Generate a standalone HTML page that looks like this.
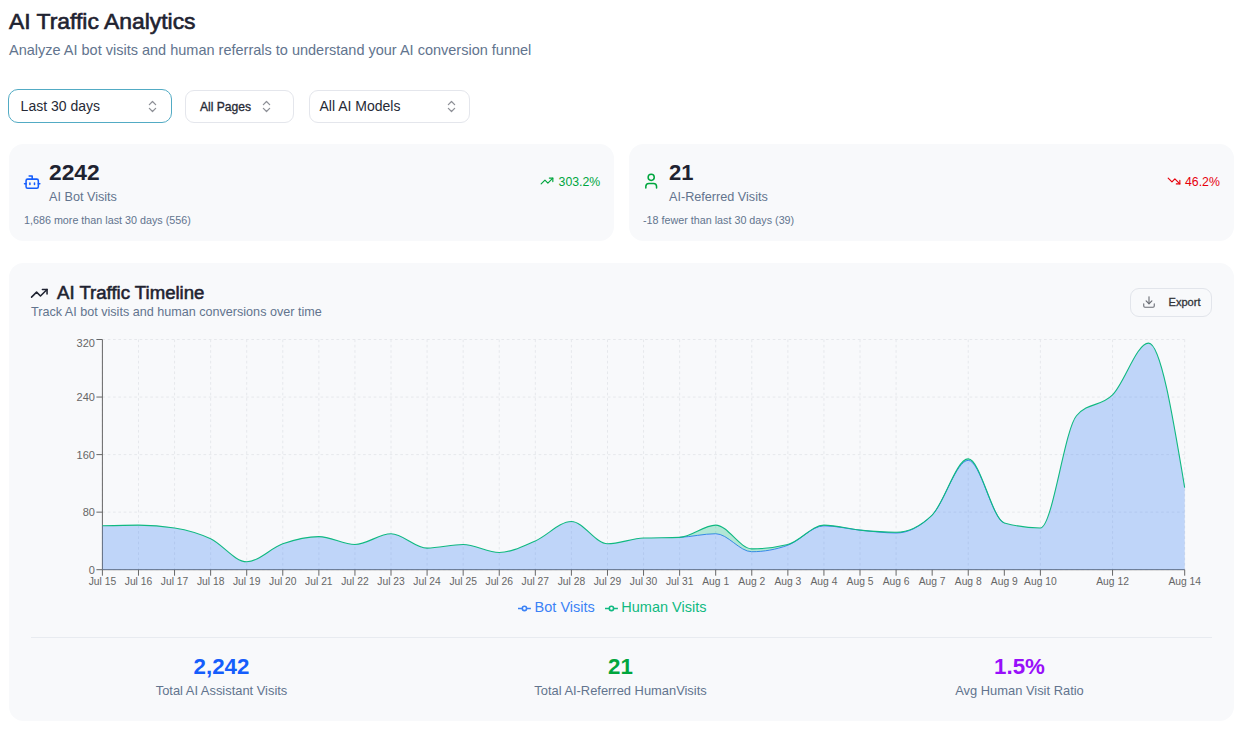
<!DOCTYPE html>
<html lang="en">
<head>
<meta charset="utf-8">
<title>AI Traffic Analytics</title>
<style>
*{box-sizing:border-box;margin:0;padding:0}
html,body{width:1243px;height:733px;overflow:hidden;background:#fff}
body{position:relative;font-family:"Liberation Sans",Arial,sans-serif;color:#1e2230}
.abs{position:absolute;white-space:nowrap}
h1{position:absolute;left:9px;top:8.6px;font-size:21.4px;line-height:26px;font-weight:400;-webkit-text-stroke:0.6px #1f2331;color:#1f2331;transform-origin:0 0;transform:scaleX(1.07)}
.sub{left:9px;top:41px;font-size:14.5px;line-height:18px;color:#62748e}
.sel{position:absolute;top:90px;height:32.5px;border:1px solid #e4e6ec;border-radius:9px;background:#fff}
.seltxt{top:98px;font-size:14px;line-height:16px;color:#262a36}
.sel1{left:8.2px;top:89px;width:163.7px;height:34px;border:1.3px solid #52abc4;border-radius:10px}
.card{position:absolute;background:#f8f9fb;border-radius:14.5px}
.c1{left:9px;top:144px;width:605px;height:97px}
.c2{left:628.5px;top:144px;width:605px;height:97px}
.big{font-size:22px;font-weight:700;color:#1f2331;line-height:26px}
.lbl{font-size:12.65px;color:#62748e;line-height:16px}
.small{font-size:10.75px;color:#62748e;line-height:14px}
.pct{font-size:12.3px;line-height:14px}
.chartcard{left:9px;top:263px;width:1225px;height:458px}
.chart{position:absolute;left:0;top:0}
.chart text{font-size:11px;font-family:"Liberation Sans",Arial,sans-serif}
.chart text.xl{font-size:10.3px}
.legend{font-size:14.5px;line-height:18px}
.divider{position:absolute;left:30.5px;top:637px;width:1181.5px;height:1px;background:#e8ebf0}
.stat{position:absolute;width:383px;text-align:center}
.stat .v{font-size:22.3px;font-weight:700;line-height:24px}
.stat .l{font-size:12.9px;color:#62748e;line-height:16px;margin-top:4.3px}
.export{position:absolute;left:1130px;top:288px;width:82px;height:29px;border:1px solid #e2e5eb;border-radius:9px;background:#f8f9fb}
</style>
</head>
<body>
<h1>AI Traffic Analytics</h1>
<div class="abs sub">Analyze AI bot visits and human referrals to understand your AI conversion funnel</div>

<div class="sel sel1"></div>
<div class="sel" style="left:185px;width:108.5px"></div>
<div class="sel" style="left:308.5px;width:161.5px"></div>
<div class="abs seltxt" style="left:20.6px">Last 30 days</div>
<div class="abs seltxt" style="left:200px;top:98.5px;font-size:12.1px;-webkit-text-stroke:0.32px #262a36">All Pages</div>
<div class="abs seltxt" style="left:319.5px">All AI Models</div>
<svg class="abs" style="left:144.6px;top:99.2px;opacity:.5" width="15" height="15" viewBox="0 0 24 24" fill="none" stroke="#1f2331" stroke-width="2" stroke-linecap="round" stroke-linejoin="round"><path d="m7 15 5 5 5-5"/><path d="m7 9 5-5 5 5"/></svg>
<svg class="abs" style="left:258.6px;top:99.2px;opacity:.5" width="15" height="15" viewBox="0 0 24 24" fill="none" stroke="#1f2331" stroke-width="2" stroke-linecap="round" stroke-linejoin="round"><path d="m7 15 5 5 5-5"/><path d="m7 9 5-5 5 5"/></svg>
<svg class="abs" style="left:443.6px;top:99.2px;opacity:.5" width="15" height="15" viewBox="0 0 24 24" fill="none" stroke="#1f2331" stroke-width="2" stroke-linecap="round" stroke-linejoin="round"><path d="m7 15 5 5 5-5"/><path d="m7 9 5-5 5 5"/></svg>

<div class="card c1"></div>
<div class="card c2"></div>
<!-- card 1 -->
<svg class="abs" style="left:23.1px;top:172.6px" width="18.4" height="18.4" viewBox="0 0 24 24" fill="none" stroke="#155dfc" stroke-width="2" stroke-linecap="round" stroke-linejoin="round"><path d="M12 8V4H8"/><rect width="16" height="12" x="4" y="8" rx="2"/><path d="M2 14h2"/><path d="M20 14h2"/><path d="M15 13v2"/><path d="M9 13v2"/></svg>
<div class="abs big" style="left:49px;top:160px;transform-origin:0 0;transform:scaleX(1.035)">2242</div>
<div class="abs lbl" style="left:49px;top:189px">AI Bot Visits</div>
<div class="abs small" style="left:24px;top:213px">1,686 more than last 30 days (556)</div>
<svg class="abs" style="left:540.3px;top:174.2px" width="14" height="14" viewBox="0 0 24 24" fill="none" stroke="#00a63e" stroke-width="2" stroke-linecap="round" stroke-linejoin="round"><polyline points="22 7 13.5 15.5 8.5 10.5 2 17"/><polyline points="16 7 22 7 22 13"/></svg>
<div class="abs pct" style="left:558.6px;top:175.3px;color:#00a63e">303.2%</div>
<!-- card 2 -->
<svg class="abs" style="left:642.4px;top:172px" width="18.4" height="18.4" viewBox="0 0 24 24" fill="none" stroke="#00a63e" stroke-width="2" stroke-linecap="round" stroke-linejoin="round"><path d="M19 21v-2a4 4 0 0 0-4-4H9a4 4 0 0 0-4 4v2"/><circle cx="12" cy="7" r="4"/></svg>
<div class="abs big" style="left:669px;top:160px">21</div>
<div class="abs lbl" style="left:669px;top:189px">AI-Referred Visits</div>
<div class="abs small" style="left:643px;top:213px">-18 fewer than last 30 days (39)</div>
<svg class="abs" style="left:1167px;top:174.3px" width="14" height="14" viewBox="0 0 24 24" fill="none" stroke="#e7000b" stroke-width="2" stroke-linecap="round" stroke-linejoin="round"><polyline points="22 17 13.5 8.5 8.5 13.5 2 7"/><polyline points="16 17 22 17 22 11"/></svg>
<div class="abs pct" style="left:1185px;top:175.4px;color:#e7000b">46.2%</div>

<!-- chart card -->
<div class="card chartcard"></div>
<svg class="abs" style="left:30.4px;top:284.3px" width="18.6" height="18.6" viewBox="0 0 24 24" fill="none" stroke="#1f2331" stroke-width="2" stroke-linecap="round" stroke-linejoin="round"><polyline points="22 7 13.5 15.5 8.5 10.5 2 17"/><polyline points="16 7 22 7 22 13"/></svg>
<div class="abs" style="left:56.5px;top:282.3px;font-size:18px;line-height:22px;color:#1f2331;-webkit-text-stroke:0.55px #1f2331;transform-origin:0 0;transform:scaleX(1.033)">AI Traffic Timeline</div>
<div class="abs" style="left:31px;top:305px;font-size:12.6px;line-height:15px;color:#62748e">Track AI bot visits and human conversions over time</div>
<div class="export">
<svg class="abs" style="left:11px;top:5.6px" width="14" height="14" viewBox="0 0 24 24" fill="none" stroke="#6a6d75" stroke-width="1.9" stroke-linecap="round" stroke-linejoin="round"><path d="M21 15v4a2 2 0 0 1-2 2H5a2 2 0 0 1-2-2v-4"/><polyline points="7 10 12 15 17 10"/><line x1="12" x2="12" y1="15" y2="3"/></svg>
<span class="abs" style="left:37.5px;top:6px;font-size:11.1px;line-height:15px;color:#303338;-webkit-text-stroke:0.3px #303338">Export</span>
</div>

<svg class="chart" width="1243" height="733" viewBox="0 0 1243 733">
<g stroke="#e6e8ec" stroke-dasharray="2.66 2.66" fill="none"><line x1="102.4" y1="569.7" x2="1184.7" y2="569.7"/><line x1="102.4" y1="512.15" x2="1184.7" y2="512.15"/><line x1="102.4" y1="454.6" x2="1184.7" y2="454.6"/><line x1="102.4" y1="397.05" x2="1184.7" y2="397.05"/><line x1="102.4" y1="339.5" x2="1184.7" y2="339.5"/><line x1="102.4" y1="339.5" x2="102.4" y2="569.7"/><line x1="138.48" y1="339.5" x2="138.48" y2="569.7"/><line x1="174.55" y1="339.5" x2="174.55" y2="569.7"/><line x1="210.63" y1="339.5" x2="210.63" y2="569.7"/><line x1="246.71" y1="339.5" x2="246.71" y2="569.7"/><line x1="282.78" y1="339.5" x2="282.78" y2="569.7"/><line x1="318.86" y1="339.5" x2="318.86" y2="569.7"/><line x1="354.94" y1="339.5" x2="354.94" y2="569.7"/><line x1="391.01" y1="339.5" x2="391.01" y2="569.7"/><line x1="427.09" y1="339.5" x2="427.09" y2="569.7"/><line x1="463.17" y1="339.5" x2="463.17" y2="569.7"/><line x1="499.24" y1="339.5" x2="499.24" y2="569.7"/><line x1="535.32" y1="339.5" x2="535.32" y2="569.7"/><line x1="571.4" y1="339.5" x2="571.4" y2="569.7"/><line x1="607.47" y1="339.5" x2="607.47" y2="569.7"/><line x1="643.55" y1="339.5" x2="643.55" y2="569.7"/><line x1="679.63" y1="339.5" x2="679.63" y2="569.7"/><line x1="715.7" y1="339.5" x2="715.7" y2="569.7"/><line x1="751.78" y1="339.5" x2="751.78" y2="569.7"/><line x1="787.86" y1="339.5" x2="787.86" y2="569.7"/><line x1="823.93" y1="339.5" x2="823.93" y2="569.7"/><line x1="860.01" y1="339.5" x2="860.01" y2="569.7"/><line x1="896.09" y1="339.5" x2="896.09" y2="569.7"/><line x1="968.24" y1="339.5" x2="968.24" y2="569.7"/><line x1="1040.39" y1="339.5" x2="1040.39" y2="569.7"/><line x1="1112.55" y1="339.5" x2="1112.55" y2="569.7"/><line x1="1184.7" y1="339.5" x2="1184.7" y2="569.7"/></g>
<g stroke="#666" fill="none"><line x1="102.4" y1="339.5" x2="102.4" y2="569.7"/><line x1="102.4" y1="569.7" x2="1184.7" y2="569.7"/><line x1="96.4" y1="569.7" x2="102.4" y2="569.7"/><line x1="96.4" y1="512.15" x2="102.4" y2="512.15"/><line x1="96.4" y1="454.6" x2="102.4" y2="454.6"/><line x1="96.4" y1="397.05" x2="102.4" y2="397.05"/><line x1="96.4" y1="339.5" x2="102.4" y2="339.5"/><line x1="102.4" y1="569.7" x2="102.4" y2="575.7"/><line x1="138.48" y1="569.7" x2="138.48" y2="575.7"/><line x1="174.55" y1="569.7" x2="174.55" y2="575.7"/><line x1="210.63" y1="569.7" x2="210.63" y2="575.7"/><line x1="246.71" y1="569.7" x2="246.71" y2="575.7"/><line x1="282.78" y1="569.7" x2="282.78" y2="575.7"/><line x1="318.86" y1="569.7" x2="318.86" y2="575.7"/><line x1="354.94" y1="569.7" x2="354.94" y2="575.7"/><line x1="391.01" y1="569.7" x2="391.01" y2="575.7"/><line x1="427.09" y1="569.7" x2="427.09" y2="575.7"/><line x1="463.17" y1="569.7" x2="463.17" y2="575.7"/><line x1="499.24" y1="569.7" x2="499.24" y2="575.7"/><line x1="535.32" y1="569.7" x2="535.32" y2="575.7"/><line x1="571.4" y1="569.7" x2="571.4" y2="575.7"/><line x1="607.47" y1="569.7" x2="607.47" y2="575.7"/><line x1="643.55" y1="569.7" x2="643.55" y2="575.7"/><line x1="679.63" y1="569.7" x2="679.63" y2="575.7"/><line x1="715.7" y1="569.7" x2="715.7" y2="575.7"/><line x1="751.78" y1="569.7" x2="751.78" y2="575.7"/><line x1="787.86" y1="569.7" x2="787.86" y2="575.7"/><line x1="823.93" y1="569.7" x2="823.93" y2="575.7"/><line x1="860.01" y1="569.7" x2="860.01" y2="575.7"/><line x1="896.09" y1="569.7" x2="896.09" y2="575.7"/><line x1="932.16" y1="569.7" x2="932.16" y2="575.7"/><line x1="968.24" y1="569.7" x2="968.24" y2="575.7"/><line x1="1004.32" y1="569.7" x2="1004.32" y2="575.7"/><line x1="1040.39" y1="569.7" x2="1040.39" y2="575.7"/><line x1="1112.55" y1="569.7" x2="1112.55" y2="575.7"/><line x1="1184.7" y1="569.7" x2="1184.7" y2="575.7"/></g>
<g class="ticks" fill="#666"><text x="94.9" y="573.6" text-anchor="end">0</text><text x="94.9" y="516.05" text-anchor="end">80</text><text x="94.9" y="458.5" text-anchor="end">160</text><text x="94.9" y="400.95" text-anchor="end">240</text><text x="94.9" y="347" text-anchor="end">320</text><text class="xl" x="102.4" y="584.9" text-anchor="middle">Jul 15</text><text class="xl" x="138.48" y="584.9" text-anchor="middle">Jul 16</text><text class="xl" x="174.55" y="584.9" text-anchor="middle">Jul 17</text><text class="xl" x="210.63" y="584.9" text-anchor="middle">Jul 18</text><text class="xl" x="246.71" y="584.9" text-anchor="middle">Jul 19</text><text class="xl" x="282.78" y="584.9" text-anchor="middle">Jul 20</text><text class="xl" x="318.86" y="584.9" text-anchor="middle">Jul 21</text><text class="xl" x="354.94" y="584.9" text-anchor="middle">Jul 22</text><text class="xl" x="391.01" y="584.9" text-anchor="middle">Jul 23</text><text class="xl" x="427.09" y="584.9" text-anchor="middle">Jul 24</text><text class="xl" x="463.17" y="584.9" text-anchor="middle">Jul 25</text><text class="xl" x="499.24" y="584.9" text-anchor="middle">Jul 26</text><text class="xl" x="535.32" y="584.9" text-anchor="middle">Jul 27</text><text class="xl" x="571.4" y="584.9" text-anchor="middle">Jul 28</text><text class="xl" x="607.47" y="584.9" text-anchor="middle">Jul 29</text><text class="xl" x="643.55" y="584.9" text-anchor="middle">Jul 30</text><text class="xl" x="679.63" y="584.9" text-anchor="middle">Jul 31</text><text class="xl" x="715.7" y="584.9" text-anchor="middle">Aug 1</text><text class="xl" x="751.78" y="584.9" text-anchor="middle">Aug 2</text><text class="xl" x="787.86" y="584.9" text-anchor="middle">Aug 3</text><text class="xl" x="823.93" y="584.9" text-anchor="middle">Aug 4</text><text class="xl" x="860.01" y="584.9" text-anchor="middle">Aug 5</text><text class="xl" x="896.09" y="584.9" text-anchor="middle">Aug 6</text><text class="xl" x="932.16" y="584.9" text-anchor="middle">Aug 7</text><text class="xl" x="968.24" y="584.9" text-anchor="middle">Aug 8</text><text class="xl" x="1004.32" y="584.9" text-anchor="middle">Aug 9</text><text class="xl" x="1040.39" y="584.9" text-anchor="middle">Aug 10</text><text class="xl" x="1112.55" y="584.9" text-anchor="middle">Aug 12</text><text class="xl" x="1184.7" y="584.9" text-anchor="middle">Aug 14</text></g>
<path d="M102.4,525.82C114.43,525.46,126.45,525.1,138.48,525.1C150.5,525.1,162.53,526.06,174.55,527.98C186.58,529.89,198.6,533.13,210.63,538.77C222.66,544.4,234.68,561.79,246.71,561.79C258.73,561.79,270.76,548,282.78,543.8C294.81,539.61,306.83,536.61,318.86,536.61C330.89,536.61,342.91,544.52,354.94,544.52C366.96,544.52,378.99,533.73,391.01,533.73C403.04,533.73,415.06,548.12,427.09,548.12C439.12,548.12,451.14,544.52,463.17,544.52C475.19,544.52,487.22,552.44,499.24,552.44C511.27,552.44,523.29,546.08,535.32,540.93C547.35,535.77,559.37,521.5,571.4,521.5C583.42,521.5,595.45,543.8,607.47,543.8C619.5,543.8,631.52,538.53,643.55,538.05C655.58,537.57,667.6,537.81,679.63,537.33C691.65,536.85,703.68,533.73,715.7,533.73C727.73,533.73,739.75,551.72,751.78,551.72C763.81,551.72,775.83,549.56,787.86,545.24C799.88,540.93,811.91,525.82,823.93,525.82C835.96,525.82,847.98,528.94,860.01,530.13C872.04,531.33,884.06,533.01,896.09,533.01C908.11,533.01,920.14,527.02,932.16,515.03C944.19,503.04,956.21,460.36,968.24,460.36C980.27,460.36,992.29,519.58,1004.32,522.94C1016.34,526.3,1028.37,527.98,1040.39,527.98C1052.42,527.98,1064.44,429.66,1076.47,415.75C1088.5,401.85,1100.52,407,1112.55,394.89C1124.57,382.78,1136.6,343.1,1148.62,343.1C1160.65,343.1,1172.67,415.39,1184.7,487.69L1184.7,569.7L102.4,569.7Z" fill="#3b82f6" fill-opacity="0.3" stroke="none"/>
<path d="M679.63,537.33C691.65,536.85,703.68,533.73,715.7,533.73M715.7,533.73C727.73,533.73,739.75,551.72,751.78,551.72M751.78,551.72C763.81,551.72,775.83,549.56,787.86,545.24M787.86,545.24C799.88,540.93,811.91,525.82,823.93,525.82M823.93,525.82C835.96,525.82,847.98,528.94,860.01,530.13M860.01,530.13C872.04,531.33,884.06,533.01,896.09,533.01M896.09,533.01C908.11,533.01,920.14,527.02,932.16,515.03M932.16,515.03C944.19,503.04,956.21,460.36,968.24,460.36M968.24,460.36C980.27,460.36,992.29,519.58,1004.32,522.94" fill="none" stroke="#3b82f6" stroke-width="1"/>
<path d="M102.4,525.82C114.43,525.46,126.45,525.1,138.48,525.1C150.5,525.1,162.53,526.06,174.55,527.98C186.58,529.89,198.6,533.13,210.63,538.77C222.66,544.4,234.68,561.79,246.71,561.79C258.73,561.79,270.76,548,282.78,543.8C294.81,539.61,306.83,536.61,318.86,536.61C330.89,536.61,342.91,544.52,354.94,544.52C366.96,544.52,378.99,533.73,391.01,533.73C403.04,533.73,415.06,548.12,427.09,548.12C439.12,548.12,451.14,544.52,463.17,544.52C475.19,544.52,487.22,552.44,499.24,552.44C511.27,552.44,523.29,546.08,535.32,540.93C547.35,535.77,559.37,521.5,571.4,521.5C583.42,521.5,595.45,543.8,607.47,543.8C619.5,543.8,631.52,538.53,643.55,538.05C655.58,537.57,667.6,537.81,679.63,537.33C691.65,536.85,703.68,525.1,715.7,525.1C727.73,525.1,739.75,548.84,751.78,548.84C763.81,548.84,775.83,547.4,787.86,544.52C799.88,541.64,811.91,525.1,823.93,525.1C835.96,525.1,847.98,528.94,860.01,530.13C872.04,531.33,884.06,532.29,896.09,532.29C908.11,532.29,920.14,526.54,932.16,515.03C944.19,503.52,956.21,458.92,968.24,458.92C980.27,458.92,992.29,519.58,1004.32,522.94C1016.34,526.3,1028.37,527.98,1040.39,527.98C1052.42,527.98,1064.44,429.66,1076.47,415.75C1088.5,401.85,1100.52,407,1112.55,394.89C1124.57,382.78,1136.6,343.1,1148.62,343.1C1160.65,343.1,1172.67,415.39,1184.7,487.69L1184.7,487.69C1172.67,415.39,1160.65,343.1,1148.62,343.1C1136.6,343.1,1124.57,382.78,1112.55,394.89C1100.52,407,1088.5,401.85,1076.47,415.75C1064.44,429.66,1052.42,527.98,1040.39,527.98C1028.37,527.98,1016.34,526.3,1004.32,522.94C992.29,519.58,980.27,460.36,968.24,460.36C956.21,460.36,944.19,503.04,932.16,515.03C920.14,527.02,908.11,533.01,896.09,533.01C884.06,533.01,872.04,531.33,860.01,530.13C847.98,528.94,835.96,525.82,823.93,525.82C811.91,525.82,799.88,540.93,787.86,545.24C775.83,549.56,763.81,551.72,751.78,551.72C739.75,551.72,727.73,533.73,715.7,533.73C703.68,533.73,691.65,536.85,679.63,537.33C667.6,537.81,655.58,537.57,643.55,538.05C631.52,538.53,619.5,543.8,607.47,543.8C595.45,543.8,583.42,521.5,571.4,521.5C559.37,521.5,547.35,535.77,535.32,540.93C523.29,546.08,511.27,552.44,499.24,552.44C487.22,552.44,475.19,544.52,463.17,544.52C451.14,544.52,439.12,548.12,427.09,548.12C415.06,548.12,403.04,533.73,391.01,533.73C378.99,533.73,366.96,544.52,354.94,544.52C342.91,544.52,330.89,536.61,318.86,536.61C306.83,536.61,294.81,539.61,282.78,543.8C270.76,548,258.73,561.79,246.71,561.79C234.68,561.79,222.66,544.4,210.63,538.77C198.6,533.13,186.58,529.89,174.55,527.98C162.53,526.06,150.5,525.1,138.48,525.1C126.45,525.1,114.43,525.46,102.4,525.82Z" fill="#10b981" fill-opacity="0.3" stroke="none"/>
<path d="M102.4,525.82C114.43,525.46,126.45,525.1,138.48,525.1C150.5,525.1,162.53,526.06,174.55,527.98C186.58,529.89,198.6,533.13,210.63,538.77C222.66,544.4,234.68,561.79,246.71,561.79C258.73,561.79,270.76,548,282.78,543.8C294.81,539.61,306.83,536.61,318.86,536.61C330.89,536.61,342.91,544.52,354.94,544.52C366.96,544.52,378.99,533.73,391.01,533.73C403.04,533.73,415.06,548.12,427.09,548.12C439.12,548.12,451.14,544.52,463.17,544.52C475.19,544.52,487.22,552.44,499.24,552.44C511.27,552.44,523.29,546.08,535.32,540.93C547.35,535.77,559.37,521.5,571.4,521.5C583.42,521.5,595.45,543.8,607.47,543.8C619.5,543.8,631.52,538.53,643.55,538.05C655.58,537.57,667.6,537.81,679.63,537.33C691.65,536.85,703.68,525.1,715.7,525.1C727.73,525.1,739.75,548.84,751.78,548.84C763.81,548.84,775.83,547.4,787.86,544.52C799.88,541.64,811.91,525.1,823.93,525.1C835.96,525.1,847.98,528.94,860.01,530.13C872.04,531.33,884.06,532.29,896.09,532.29C908.11,532.29,920.14,526.54,932.16,515.03C944.19,503.52,956.21,458.92,968.24,458.92C980.27,458.92,992.29,519.58,1004.32,522.94C1016.34,526.3,1028.37,527.98,1040.39,527.98C1052.42,527.98,1064.44,429.66,1076.47,415.75C1088.5,401.85,1100.52,407,1112.55,394.89C1124.57,382.78,1136.6,343.1,1148.62,343.1C1160.65,343.1,1172.67,415.39,1184.7,487.69" fill="none" stroke="#10b981" stroke-width="1.1"/>
</svg>

<svg class="abs" style="left:518px;top:602.2px" width="12.9" height="12.9" viewBox="0 0 32 32"><path stroke-width="4" fill="none" stroke="#3b82f6" d="M0,16h10.667A5.333,5.333,0,1,1,21.333,16H32M21.333,16A5.333,5.333,0,1,1,10.667,16"/></svg>
<div class="abs legend" style="left:534.6px;top:598px;color:#3b82f6">Bot Visits</div>
<svg class="abs" style="left:604.7px;top:602.2px" width="12.9" height="12.9" viewBox="0 0 32 32"><path stroke-width="4" fill="none" stroke="#10b981" d="M0,16h10.667A5.333,5.333,0,1,1,21.333,16H32M21.333,16A5.333,5.333,0,1,1,10.667,16"/></svg>
<div class="abs legend" style="left:621.3px;top:598px;color:#10b981">Human Visits</div>

<div class="divider"></div>
<div class="stat" style="left:30px;top:654.7px"><div class="v" style="color:#155dfc">2,242</div><div class="l">Total AI Assistant Visits</div></div>
<div class="stat" style="left:429px;top:654.7px"><div class="v" style="color:#00a63e">21</div><div class="l">Total AI-Referred HumanVisits</div></div>
<div class="stat" style="left:828px;top:654.7px"><div class="v" style="color:#9810fa">1.5%</div><div class="l">Avg Human Visit Ratio</div></div>
</body>
</html>
